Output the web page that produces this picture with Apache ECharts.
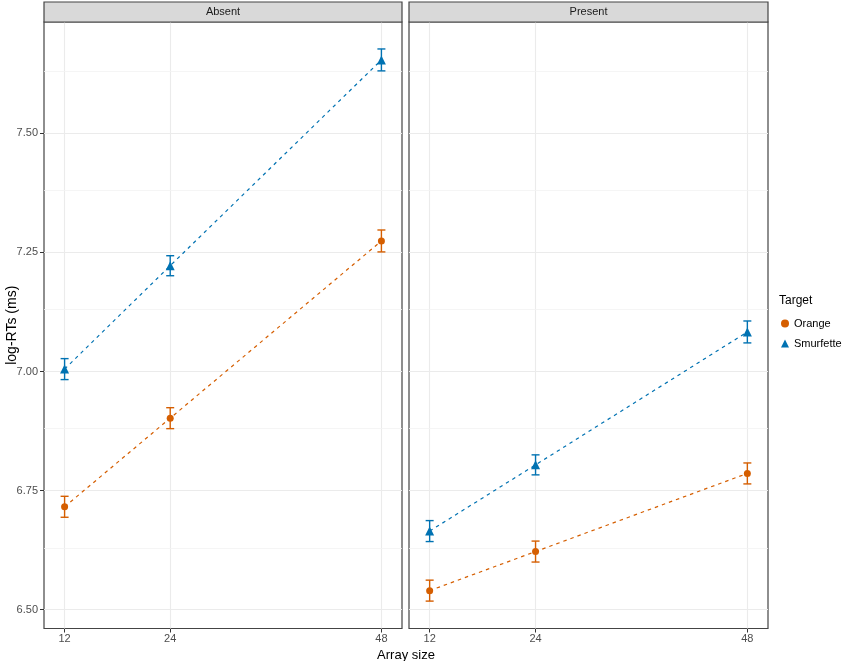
<!DOCTYPE html>
<html>
<head>
<meta charset="utf-8">
<script src="https://cdn.jsdelivr.net/npm/echarts@6/dist/echarts.min.js"></script>
<style>html,body{margin:0;padding:0;background:#fff}#c{width:851px;height:661px}</style>
</head>
<body>
<div id="c"></div>
<script>
// ---- data ----
var panels = ['Absent', 'Present'];
var arraySizes = [12, 24, 48];
var yTicks = [6.50, 6.75, 7.00, 7.25, 7.50];
var yMinorTicks = [6.625, 6.875, 7.125, 7.375, 7.625];
var orangeAbsent = [6.716, 6.902, 7.274];
var orangeAbsentErr = [0.022, 0.022, 0.023];
var smurfAbsent = [7.005, 7.222, 7.654];
var smurfAbsentErr = [0.022, 0.021, 0.023];
var orangePresent = [6.540, 6.622, 6.786];
var orangePresentErr = [0.022, 0.022, 0.022];
var smurfPresent = [6.665, 6.804, 7.083];
var smurfPresentErr = [0.022, 0.021, 0.023];

var ORANGE = '#D55E00', BLUE = '#0072B2';
var FONT = 'Liberation Sans, Arial, sans-serif';

function pts(xs, ys) { return xs.map(function (x, i) { return [x, ys[i]]; }); }
function errs(xs, ys, es) { return xs.map(function (x, i) { return [x, ys[i], es[i]]; }); }

var grids = [
  { left: 44, top: 22, width: 358, height: 606.5, show: true, borderColor: '#444', borderWidth: 1.2, backgroundColor: '#fff', outerBoundsMode: 'none', containLabel: false },
  { left: 409, top: 22, width: 359, height: 606.5, show: true, borderColor: '#444', borderWidth: 1.2, backgroundColor: '#fff', outerBoundsMode: 'none', containLabel: false }
];

function xAxis(gi) {
  return {
    type: 'value', gridIndex: gi, min: 9.66, max: 50.34,
    axisLine: { show: false },
    splitLine: { show: false },
    axisTick: { show: true, customValues: arraySizes, length: 4, lineStyle: { color: '#333' } },
    axisLabel: { show: true, customValues: arraySizes, color: '#4d4d4d', fontSize: 11, fontFamily: FONT, margin: 5 }
  };
}
function yAxis(gi) {
  var a = {
    type: 'value', gridIndex: gi, min: 6.4605, max: 7.7336,
    axisLine: { show: false },
    splitLine: { show: false },
    axisTick: { show: gi === 0, customValues: yTicks, length: 4, lineStyle: { color: '#333' } },
    axisLabel: { show: gi === 0, customValues: yTicks, color: '#4d4d4d', fontSize: 11, fontFamily: FONT, margin: 6,
      formatter: function (v) { return v.toFixed(2); } }
  };
  if (gi === 0) {
    a.name = 'log-RTs (ms)';
    a.nameLocation = 'middle';
    a.nameGap = 25;
    a.nameMoveOverlap = false;
    a.nameRotate = 90;
    a.nameTextStyle = { color: '#000', fontSize: 14, fontFamily: FONT };
  }
  return a;
}

function gridLineSeries(gi) {
  var lines = [];
  arraySizes.forEach(function (x) { lines.push({ xAxis: x, lineStyle: { color: '#EBEBEB', width: 1.1, type: 'solid' } }); });
  yTicks.forEach(function (y) { lines.push({ yAxis: y, lineStyle: { color: '#EBEBEB', width: 1.1, type: 'solid' } }); });
  yMinorTicks.forEach(function (y) { lines.push({ yAxis: y, lineStyle: { color: '#F2F2F2', width: 0.8, type: 'solid' } }); });
  return {
    type: 'line', xAxisIndex: gi, yAxisIndex: gi, data: [], z: 1, silent: true,
    markLine: { z: 1, silent: true, symbol: ['none', 'none'], label: { show: false }, animation: false, data: lines }
  };
}

function lineSeries(gi, name, ys, color) {
  return {
    type: 'line', name: name, xAxisIndex: gi, yAxisIndex: gi, data: pts(arraySizes, ys),
    showSymbol: false, symbol: 'none', z: 10, silent: true,
    lineStyle: { color: color, width: 1.2, type: [3.5, 4] }
  };
}

function errSeries(gi, name, ys, es, color) {
  return {
    type: 'custom', name: name, xAxisIndex: gi, yAxisIndex: gi, z: 11, silent: true, clip: false,
    data: errs(arraySizes, ys, es),
    encode: { x: 0, y: 1 },
    renderItem: function (params, api) {
      var x = api.value(0), y = api.value(1), e = api.value(2);
      var top = api.coord([x, y + e]);
      var bot = api.coord([x, y - e]);
      var hw = 4, lw = 1.4;
      var fillSt = { fill: color, stroke: null };
      return {
        type: 'group', children: [
          { type: 'rect', shape: { x: top[0] - lw / 2, y: top[1], width: lw, height: bot[1] - top[1] }, style: fillSt },
          { type: 'rect', shape: { x: top[0] - hw, y: top[1] - lw / 2, width: 2 * hw, height: lw }, style: fillSt },
          { type: 'rect', shape: { x: bot[0] - hw, y: bot[1] - lw / 2, width: 2 * hw, height: lw }, style: fillSt }
        ]
      };
    }
  };
}

function pointSeries(gi, name, ys, color, symbol, size) {
  return {
    type: 'scatter', name: name, xAxisIndex: gi, yAxisIndex: gi, data: pts(arraySizes, ys),
    symbol: symbol, symbolSize: size, z: 12, silent: true,
    itemStyle: { color: color, opacity: 1 }
  };
}

var series = [
  pointSeries(0, 'Orange', orangeAbsent, ORANGE, 'circle', 7),
  pointSeries(0, 'Smurfette', smurfAbsent, BLUE, 'triangle', 9),
  gridLineSeries(0), gridLineSeries(1),
  lineSeries(0, 'Orange', orangeAbsent, ORANGE),
  lineSeries(0, 'Smurfette', smurfAbsent, BLUE),
  lineSeries(1, 'Orange', orangePresent, ORANGE),
  lineSeries(1, 'Smurfette', smurfPresent, BLUE),
  errSeries(0, 'Orange', orangeAbsent, orangeAbsentErr, ORANGE),
  errSeries(0, 'Smurfette', smurfAbsent, smurfAbsentErr, BLUE),
  errSeries(1, 'Orange', orangePresent, orangePresentErr, ORANGE),
  errSeries(1, 'Smurfette', smurfPresent, smurfPresentErr, BLUE),
  pointSeries(1, 'Orange', orangePresent, ORANGE, 'circle', 7),
  pointSeries(1, 'Smurfette', smurfPresent, BLUE, 'triangle', 9)
];

function strip(gi, label) {
  var g = grids[gi];
  return [
    { type: 'rect', shape: { x: g.left, y: 2, width: g.width, height: 20 },
      style: { fill: '#D9D9D9', stroke: '#444', lineWidth: 1.2 }, z: 20 },
    { type: 'text', x: g.left + g.width / 2, y: 12,
      style: { text: label, fill: '#1a1a1a', font: '11px ' + FONT, textAlign: 'center', textVerticalAlign: 'middle' }, z: 21 }
  ];
}

var chart = echarts.init(document.getElementById('c'), null, { renderer: 'canvas' });
chart.setOption({
  animation: false,
  backgroundColor: '#fff',
  grid: grids,
  xAxis: [xAxis(0), xAxis(1)],
  yAxis: [yAxis(0), yAxis(1)],
  title: { text: 'Target', left: 774, top: 290, textStyle: { color: '#000', fontSize: 12, fontWeight: 'normal', fontFamily: FONT } },
  legend: {
    orient: 'vertical', left: 776, top: 313, itemWidth: 8, itemHeight: 8, itemGap: 9,
    selectedMode: false,
    textStyle: { color: '#000', fontSize: 11, fontFamily: FONT },
    data: [{ name: 'Orange', icon: 'circle' }, { name: 'Smurfette', icon: 'triangle' }]
  },
  graphic: strip(0, panels[0]).concat(strip(1, panels[1])).concat([
    { type: 'text', x: 406, y: 655,
      style: { text: 'Array size', fill: '#000', font: '13px ' + FONT, textAlign: 'center', textVerticalAlign: 'middle' } }
  ]),
  series: series
});
</script>
</body>
</html>
